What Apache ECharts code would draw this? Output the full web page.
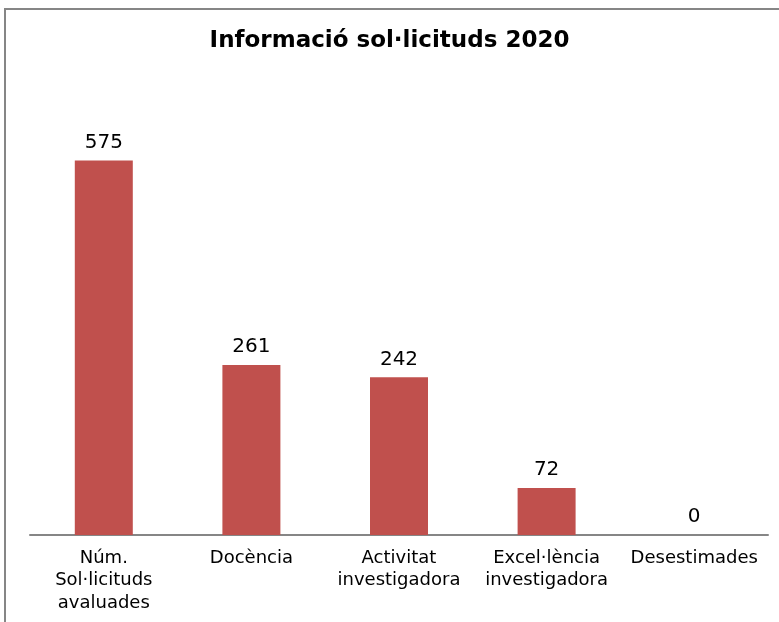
<!DOCTYPE html>
<html><head><meta charset="utf-8">
<script src="https://cdn.jsdelivr.net/npm/echarts@6/dist/echarts.min.js"></script>
<style>html,body{margin:0;padding:0;background:#fff}#c{width:779px;height:622px}</style>
</head><body><div id="c"></div>
<script>
var categories = ['Núm.\nSol·licituds\navaluades', 'Docència', 'Activitat\ninvestigadora', 'Excel·lència\ninvestigadora', 'Desestimades'];
var values = [575, 261, 242, 72, 0];
var chart = echarts.init(document.getElementById('c'));
chart.setOption({
  animation: false,
  backgroundColor: '#fff',
  title: {
    text: 'Informació sol·licituds 2020',
    left: 'center', top: 25,
    textStyle: { fontFamily: 'DejaVu Sans', fontSize: 23, fontWeight: 'bold', color: '#000' }
  },
  graphic: [{
    type: 'rect', shape: { x: 5, y: 9, width: 820, height: 700 },
    style: { fill: 'none', stroke: '#868686', lineWidth: 2 }, silent: true
  }],
  grid: { left: 30, right: 11, top: 79, bottom: 87 },
  xAxis: {
    type: 'category', data: categories,
    axisLine: { lineStyle: { color: '#868686', width: 2 } },
    axisTick: { show: false },
    axisLabel: { interval: 0, fontFamily: 'DejaVu Sans', fontSize: 18, color: '#000', lineHeight: 22.5, margin: 12 }
  },
  yAxis: { type: 'value', min: 0, max: 700, show: false, splitLine: { show: false } },
  series: [{
    type: 'bar', data: values, barWidth: 58,
    itemStyle: { color: '#C0504D' },
    label: { show: true, position: 'top', distance: 8, fontFamily: 'DejaVu Sans', fontSize: 20, color: '#000' }
  }]
});
</script></body></html>
